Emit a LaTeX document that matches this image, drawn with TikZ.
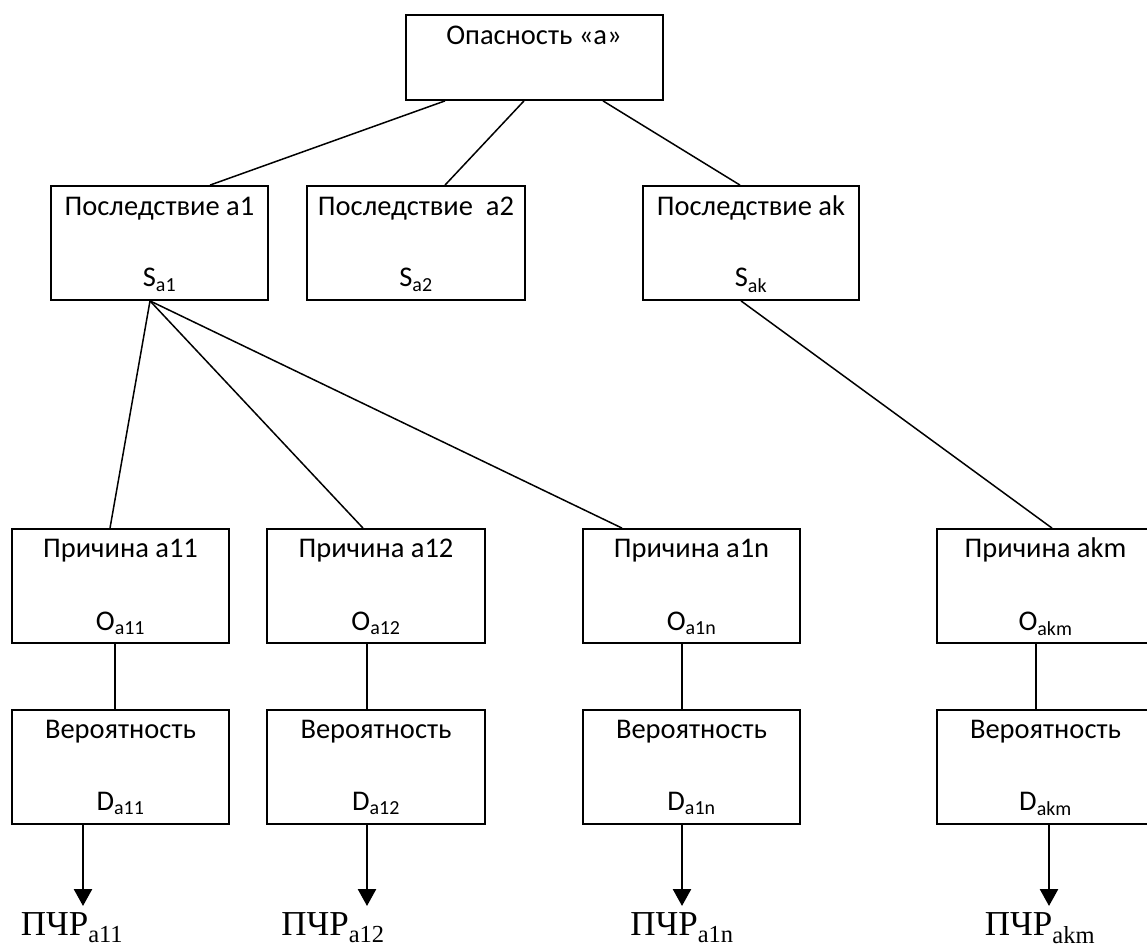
\documentclass[tikz,border=0pt]{standalone}
\usepackage{fontspec}
\setmainfont{Carlito}
\newfontfamily\serifcyr{Liberation Serif}
\usetikzlibrary{arrows.meta}
\tikzset{
  box/.style={draw, line width=1.8pt, minimum height=114pt, inner sep=0pt, fill=white},
  boxtxt/.style={anchor=base, inner sep=0pt, font=\fontsize{28.5}{32}\selectfont},
  conn/.style={line width=1.5pt},
  outarr/.style={line width=2.6pt, -{Triangle[width=18pt,length=17pt]}},
  res/.style={anchor=base, inner sep=0pt, font=\serifcyr\fontsize{35}{40}\selectfont}
}
\begin{document}
\begin{tikzpicture}[x=1pt,y=-1pt]
\useasboundingbox (0,0) rectangle (1147,949);
% boxes
\node[box, minimum width=257pt, minimum height=85pt] (top) at (534.5,57.5) {};
\node[box, minimum width=217pt] (s1) at (159.5,243) {};
\node[box, minimum width=218pt] (s2) at (416,243) {};
\node[box, minimum width=216pt] (sk) at (751,243) {};
\node[box, minimum width=217pt] (o1) at (120.5,586) {};
\node[box, minimum width=218pt] (o2) at (376,586) {};
\node[box, minimum width=217pt] (on) at (691.5,586) {};
\node[box, minimum width=217pt] (om) at (1045.5,586) {};
\node[box, minimum width=217pt] (d1) at (120.5,767) {};
\node[box, minimum width=218pt] (d2) at (376,767) {};
\node[box, minimum width=217pt] (dn) at (691.5,767) {};
\node[box, minimum width=217pt] (dm) at (1045.5,767) {};
% texts
\node[boxtxt] (ttop) at (534,45) {Опасность «а»};
\node[boxtxt] (ts1) at (159.5,216) {Последствие а1};
\node[boxtxt] (ts1b) at (159.5,287) {S\textsubscript{a1}};
\node[boxtxt] (ts2) at (416,216) {Последствие\ \ а2};
\node[boxtxt] (ts2b) at (416,287) {S\textsubscript{a2}};
\node[boxtxt] (tsk) at (751,216) {Последствие ak};
\node[boxtxt] (tskb) at (751,287) {S\textsubscript{ak}};
\node[boxtxt] (to1) at (120.5,557) {Причина а11};
\node[boxtxt] (to1b) at (120.5,630) {O\textsubscript{a11}};
\node[boxtxt] (to2) at (376,557) {Причина а12};
\node[boxtxt] (to2b) at (376,630) {O\textsubscript{a12}};
\node[boxtxt] (ton) at (691.5,557) {Причина а1n};
\node[boxtxt] (tonb) at (691.5,630) {O\textsubscript{a1n}};
\node[boxtxt] (tom) at (1045.5,557) {Причина akm};
\node[boxtxt] (tomb) at (1045.5,630) {O\textsubscript{akm}};
\node[boxtxt] (td1) at (120.5,738) {Вероятность};
\node[boxtxt] (td1b) at (120.5,810) {D\textsubscript{a11}};
\node[boxtxt] (td2) at (376,738) {Вероятность};
\node[boxtxt] (td2b) at (376,810) {D\textsubscript{a12}};
\node[boxtxt] (tdn) at (691.5,738) {Вероятность};
\node[boxtxt] (tdnb) at (691.5,810) {D\textsubscript{a1n}};
\node[boxtxt] (tdm) at (1045.5,738) {Вероятность};
\node[boxtxt] (tdmb) at (1045.5,810) {D\textsubscript{akm}};
% result labels
\node[res] (p1) at (72,935) {ПЧР\textsubscript{a11}};
\node[res] (p2) at (333,935) {ПЧР\textsubscript{a12}};
\node[res] (pn) at (682,935) {ПЧР\textsubscript{a1n}};
\node[res] (pm) at (1040,935) {ПЧР\textsubscript{akm}};
\coordinate (t1) at (83,906);
\coordinate (t2) at (367,906);
\coordinate (tn) at (682,906);
\coordinate (tm) at (1049,906);
% connectors
\draw[conn] ([xshift=-89.5pt]top.south) -- ([xshift=50.5pt]s1.north);
\draw[conn] ([xshift=-10.5pt]top.south) -- ([xshift=29pt]s2.north);
\draw[conn] ([xshift=68.5pt]top.south) -- ([xshift=-11pt]sk.north);
\draw[conn] ([xshift=-9.5pt]s1.south) -- ([xshift=-10.5pt]o1.north);
\draw[conn] ([xshift=-9.5pt]s1.south) -- ([xshift=-13pt]o2.north);
\draw[conn] ([xshift=-9.5pt]s1.south) -- ([xshift=-69.5pt]on.north);
\draw[conn] ([xshift=-10pt]sk.south) -- ([xshift=6.5pt]om.north);
\draw[conn] ([xshift=-5.5pt]o1.south) -- ([xshift=-5.5pt]d1.north);
\draw[conn] ([xshift=-9pt]o2.south) -- ([xshift=-9pt]d2.north);
\draw[conn] ([xshift=-9.5pt]on.south) -- ([xshift=-9.5pt]dn.north);
\draw[conn] ([xshift=-9.5pt]om.south) -- ([xshift=-9.5pt]dm.north);
\draw[outarr] (t1 |- d1.south) -- (t1);
\draw[outarr] (t2 |- d2.south) -- (t2);
\draw[outarr] (tn |- dn.south) -- (tn);
\draw[outarr] (tm |- dm.south) -- (tm);
\end{tikzpicture}
\end{document}
